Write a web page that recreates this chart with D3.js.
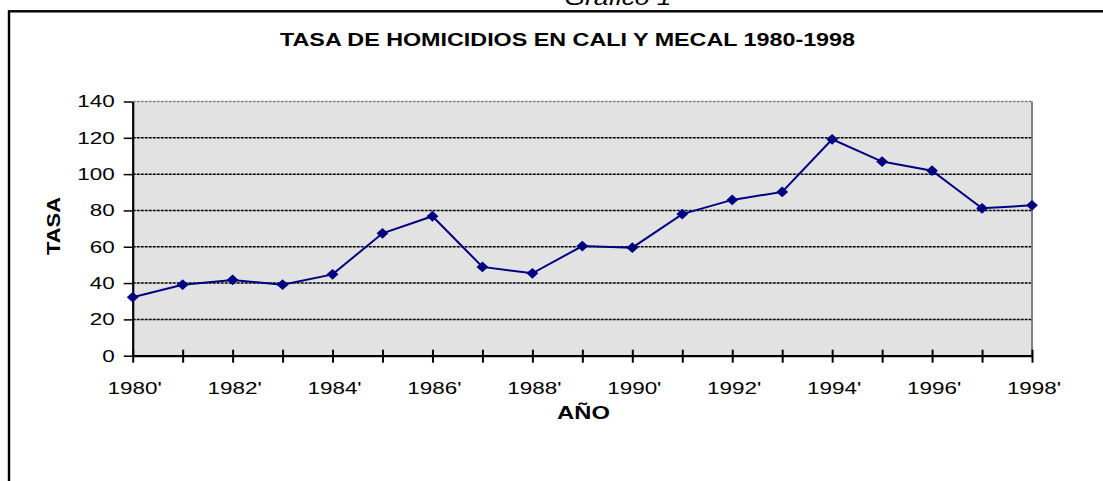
<!DOCTYPE html>
<html>
<head>
<meta charset="utf-8">
<script src="https://cdn.jsdelivr.net/npm/d3@7"></script>
<style>
html,body{margin:0;padding:0;background:#fff;}
svg{display:block;}
text{font-family:"Liberation Sans",Arial,sans-serif;}
</style>
</head>
<body>
<svg id="chart" width="1103" height="481"></svg>
<script>
const years = [1980,1981,1982,1983,1984,1985,1986,1987,1988,1989,1990,1991,1992,1993,1994,1995,1996,1997,1998];
const tasa = [32.2,39.1,41.7,39.1,44.8,67.4,76.8,48.9,45.4,60.4,59.5,78.0,85.8,90.2,119.2,106.9,101.9,81.2,82.8];
const xTickLabels = ["1980'","","1982'","","1984'","","1986'","","1988'","","1990'","","1992'","","1994'","","1996'","","1998'"];
const yTicks = [0,20,40,60,80,100,120,140];
const chartTitle = "TASA DE HOMICIDIOS EN CALI Y MECAL 1980-1998";
const pageTitle = "Gráfico 1";
const yTitle = "TASA";
const xTitle = "AÑO";

const SX = 1.32;
const svg = d3.select("#chart");
svg.append("rect").attr("width",1103).attr("height",481).attr("fill","#fff");

function stretch(sel, sx){
  sel.each(function(){
    const L = this.getComputedTextLength();
    if (L > 0){
      this.setAttribute("textLength", L*sx);
      this.setAttribute("lengthAdjust","spacingAndGlyphs");
    }
  });
}
function fitTo(sel, w){
  sel.each(function(){ this.setAttribute("textLength", w); this.setAttribute("lengthAdjust","spacingAndGlyphs"); });
}

// page title (cut off at top, as in the reference)
svg.append("text").attr("x",618).attr("y",5).attr("text-anchor","middle")
  .attr("font-size",20).attr("font-style","italic").attr("fill","#000").text(pageTitle)
  .call(fitTo,107);

// outer frame
svg.append("rect").attr("x",9).attr("y",11.3).attr("width",1300).attr("height",700)
  .attr("fill","none").attr("stroke","#000").attr("stroke-width",2.4);

const x = d3.scaleLinear().domain([1980,1998]).range([132.7,1032]);
const y = d3.scaleLinear().domain([0,140]).range([355.7,101.5]);

// plot area
svg.append("rect").attr("x",x(1980)).attr("y",y(140))
  .attr("width",x(1998)-x(1980)).attr("height",y(0)-y(140)).attr("fill","#e2e2e2");

// gridlines
svg.append("g").selectAll("line").data(yTicks.filter(d=>d>0 && d<140)).join("line")
  .attr("x1",x(1980)).attr("x2",x(1998)).attr("y1",d=>y(d)).attr("y2",d=>y(d))
  .attr("stroke","#000").attr("stroke-width",1.5).attr("stroke-dasharray","3,1");
// top border of plot area
svg.append("line").attr("x1",x(1980)).attr("x2",x(1998)).attr("y1",y(140)).attr("y2",y(140))
  .attr("stroke","#808080").attr("stroke-width",1.6).attr("stroke-dasharray","3,1");
// right border of plot area
svg.append("line").attr("x1",x(1998)).attr("x2",x(1998)).attr("y1",y(140)).attr("y2",y(0))
  .attr("stroke","#808080").attr("stroke-width",2);

// y axis
const gy = svg.append("g").attr("transform",`translate(${x(1980)},0)`)
  .call(d3.axisLeft(y).tickValues(yTicks).tickSize(9).tickSizeOuter(0).tickPadding(9).tickFormat(d3.format("d")));
gy.select(".domain").attr("stroke","#000").attr("stroke-width",2.2);
gy.selectAll(".tick line").attr("stroke","#000").attr("stroke-width",1.5);
gy.selectAll(".tick text").attr("font-size",17).attr("fill","#000")
  .attr("font-family","'Liberation Sans',Arial,sans-serif").call(stretch,SX);

// x axis
const gx = svg.append("g").attr("transform",`translate(0,${y(0)})`)
  .call(d3.axisBottom(x).tickValues(years).tickSizeOuter(0).tickFormat((d,i)=>xTickLabels[i]));
gx.select(".domain").attr("stroke","#000").attr("stroke-width",2.2);
gx.selectAll(".tick line").attr("y1",-6).attr("y2",7).attr("stroke","#000").attr("stroke-width",2);
gx.selectAll(".tick text").attr("y",38.5).attr("dy",0).attr("dx",1.5).attr("font-size",17).attr("fill","#000")
  .attr("font-family","'Liberation Sans',Arial,sans-serif").call(stretch,SX);

// line
const pts = years.map((yr,i)=>[yr,tasa[i]]);
svg.append("path").datum(pts)
  .attr("d",d3.line().x(d=>x(d[0])).y(d=>y(d[1])))
  .attr("fill","none").attr("stroke","#000080").attr("stroke-width",2);
// markers
const sym = d3.symbol().type(d3.symbolSquare).size(58);
svg.append("g").selectAll("path").data(pts).join("path")
  .attr("d",sym)
  .attr("transform",d=>`translate(${x(d[0])},${y(d[1])}) scale(1.1,1) rotate(45)`)
  .attr("fill","#000080");

// chart title
svg.append("text").attr("x",567.5).attr("y",46).attr("text-anchor","middle")
  .attr("font-size",18).attr("font-weight","bold").attr("fill","#000").text(chartTitle)
  .call(fitTo,575);

// axis titles
svg.append("text").attr("transform","translate(60,226) rotate(-90)").attr("text-anchor","middle")
  .attr("font-size",18).attr("font-weight","bold").attr("fill","#000").text(yTitle)
  .call(fitTo,58);
svg.append("text").attr("x",583.5).attr("y",419).attr("text-anchor","middle")
  .attr("font-size",18).attr("font-weight","bold").attr("fill","#000").text(xTitle)
  .call(stretch,SX);
</script>
</body>
</html>
